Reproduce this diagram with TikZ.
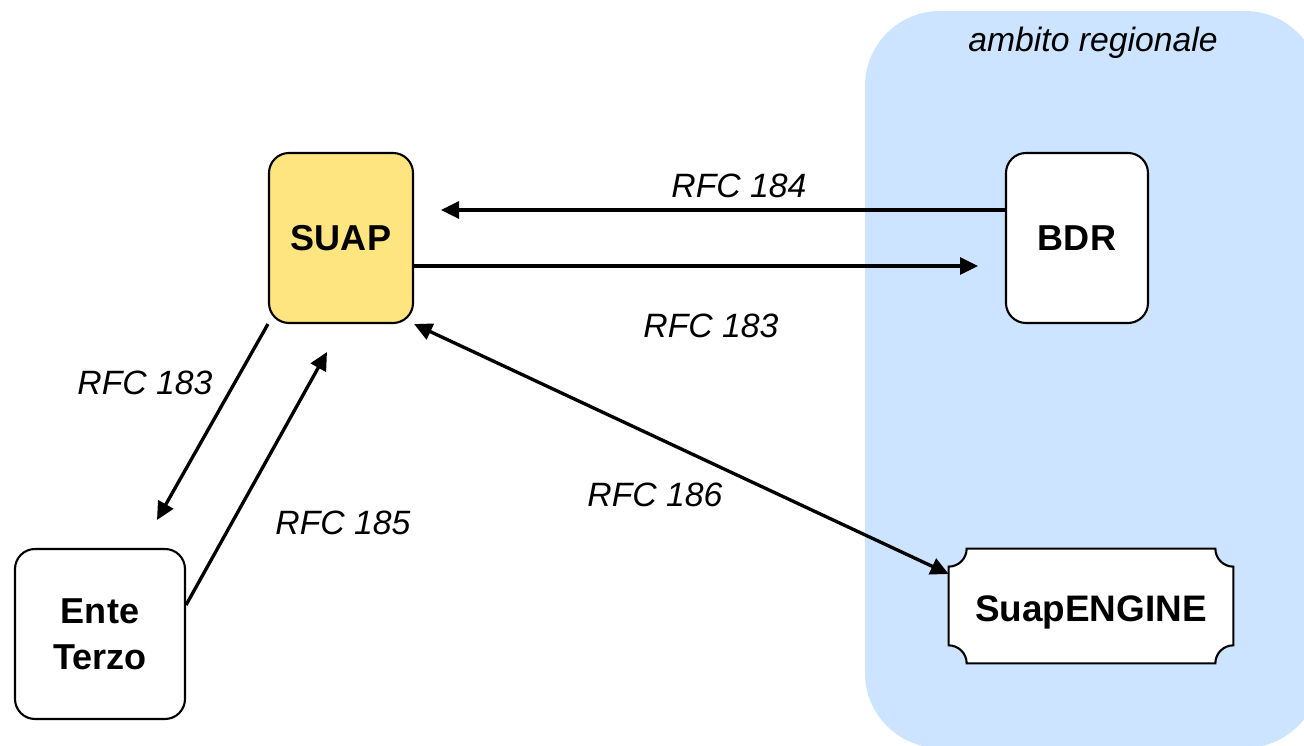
\documentclass[tikz,border=0pt]{standalone}
\usepackage{fontspec}
\setmainfont{Liberation Sans}
\usetikzlibrary{arrows.meta,calc}

\begin{document}
\begin{tikzpicture}[
		box/.style={draw, line width=1.2pt, rounded corners=0.4cm, inner sep=0pt, align=center,
			font=\fontsize{20.5}{26}\selectfont\bfseries},
		lbl/.style={font=\fontsize{19.2}{22}\selectfont\itshape},
		conn/.style={line width=1.9pt, -{Triangle[length=0.36cm, width=0.34cm]}}]
		%%%%% START %%%%%
		
		\useasboundingbox (0, 0) rectangle (26.08, 14.92);
		
		\fill[color={rgb,255:red,204;green,228;blue,255}, rounded corners=1.5cm] (17.30, -0.04) rectangle (26.40, 14.70);
		\node[lbl] (area) at (21.86, 14.06) {ambito regionale};
		
		\node[box, fill={rgb,255:red,255;green,229;blue,128}, minimum width=2.88cm, minimum height=3.40cm] (suap) at (6.82, 10.16) {SUAP};
		\node[box, fill=white, minimum width=2.84cm, minimum height=3.40cm] (bdr) at (21.54, 10.16) {BDR};
		\node[box, fill=white, minimum width=3.40cm, minimum height=3.40cm] (ente) at (2.00, 2.24) {Ente\\Terzo};
		
		\node[inner sep=0pt, minimum width=5.68cm, minimum height=2.28cm] (eng) at (21.82, 2.80) {};
		\filldraw[fill=white, line width=1.2pt]
			([yshift=-0.36cm]eng.north west) arc[start angle=270, end angle=360, radius=0.36cm]
			-- ([xshift=-0.36cm]eng.north east) arc[start angle=180, end angle=270, radius=0.36cm]
			-- ([yshift=0.36cm]eng.south east) arc[start angle=90, end angle=180, radius=0.36cm]
			-- ([xshift=0.36cm]eng.south west) arc[start angle=0, end angle=90, radius=0.36cm]
			-- cycle;
		\node[font=\fontsize{21}{25}\selectfont\bfseries, yshift=-0.12cm] at (eng) {SuapENGINE};
		
		\coordinate (p184) at (8.82, 10.72);
		\coordinate (p183) at (19.56, 9.60);
		\coordinate (p183b) at (3.14, 4.52);
		\coordinate (p185) at (6.54, 7.88);
		
		\draw[conn] ([yshift=0.56cm]bdr.west) -- (p184);
		\draw[conn] ([yshift=-0.56cm]suap.east) -- (p183);
		\draw[conn, {Triangle[length=0.36cm, width=0.34cm]}-{Triangle[length=0.36cm, width=0.34cm]}] (suap.south east) -- ([yshift=0.64cm]eng.west);
		\draw[conn] (suap.south west) -- (p183b);
		\draw[conn] ([yshift=0.58cm]ente.east) -- (p185);
		
		\node[lbl] (l184) at (14.78, 11.20) {RFC 184};
		\node[lbl] (l183) at (14.22, 8.40) {RFC 183};
		\node[lbl] (l183b) at (2.90, 7.26) {RFC 183};
		\node[lbl] (l185) at (6.86, 4.46) {RFC 185};
		\node[lbl] (l186) at (13.10, 5.02) {RFC 186};
		
		%%%%% END %%%%%
\end{tikzpicture}
\end{document}
